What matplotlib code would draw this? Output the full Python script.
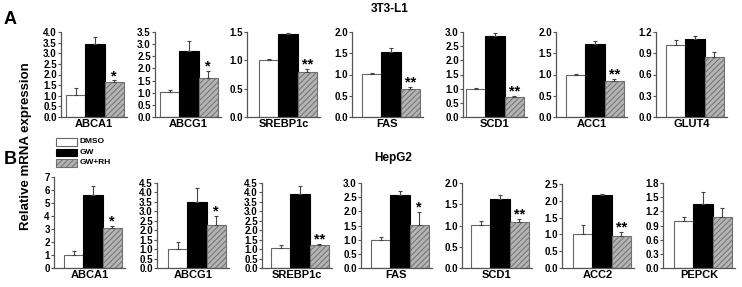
import numpy as np
import matplotlib
matplotlib.use('Agg')
import matplotlib.pyplot as plt
from matplotlib.patches import Rectangle

plt.rcParams['font.family'] = ['Liberation Sans', 'DejaVu Sans']
plt.rcParams['font.weight'] = 'bold'
plt.rcParams['hatch.linewidth'] = 0.7
plt.rcParams['hatch.color'] = '#5e5e5e'

groups = ['DMSO', 'GW', 'GW+RH']

# panel A, 3T3-L1
genes_a = ['ABCA1', 'ABCG1', 'SREBP1c', 'FAS', 'SCD1', 'ACC1', 'GLUT4']
dmso_a = [1.05, 1.02, 1.0, 1.01, 1.0, 1.0, 1.01]
dmso_a_err = [0.3, 0.08, 0.02, 0.02, 0.03, 0.02, 0.08]
gw_a = [3.45, 2.7, 1.46, 1.54, 2.86, 1.72, 1.10]
gw_a_err = [0.33, 0.45, 0.03, 0.09, 0.09, 0.08, 0.05]
rh_a = [1.67, 1.6, 0.80, 0.67, 0.72, 0.85, 0.85]
rh_a_err = [0.05, 0.3, 0.04, 0.03, 0.03, 0.05, 0.07]
sig_a = ['*', '*', '**', '**', '**', '**', '']
ymax_a = [4.0, 3.5, 1.5, 2.0, 3.0, 2.0, 1.2]
ystep_a = [0.5, 0.5, 0.5, 0.5, 0.5, 0.5, 0.3]

# panel B, HepG2
genes_b = ['ABCA1', 'ABCG1', 'SREBP1c', 'FAS', 'SCD1', 'ACC2', 'PEPCK']
dmso_b = [1.02, 1.03, 1.05, 1.0, 1.01, 1.02, 1.0]
dmso_b_err = [0.3, 0.35, 0.15, 0.08, 0.09, 0.25, 0.07]
gw_b = [5.6, 3.5, 3.9, 2.58, 1.62, 2.17, 1.35]
gw_b_err = [0.7, 0.75, 0.44, 0.15, 0.1, 0.03, 0.26]
rh_b = [3.05, 2.27, 1.2, 1.53, 1.08, 0.95, 1.09]
rh_b_err = [0.21, 0.5, 0.09, 0.46, 0.08, 0.13, 0.18]
sig_b = ['*', '*', '**', '*', '**', '**', '']
ymax_b = [7, 4.5, 4.5, 3.0, 2.0, 2.5, 1.8]
ystep_b = [1, 0.5, 0.5, 0.5, 0.5, 0.5, 0.3]

W, H = 742, 287
fig = plt.figure(figsize=(W / 100, H / 100), dpi=100)

# layout in pixels: spine x, first bar x, top y, bottom y
spine_a = [61, 155, 247, 352, 463, 556, 656]
bar0_a = [66, 160, 259, 362, 466, 566, 666]
top_a = [32] * 7
spine_b = [54, 157, 262, 361, 462, 562, 663]
bar0_b = [64, 168, 271, 371, 471, 573, 674]
top_b = [177, 183, 183, 183, 183, 184, 183]
bw = 19.3

styles = [dict(facecolor='white', edgecolor='#666666'),
          dict(facecolor='black', edgecolor='black'),
          dict(facecolor='#b4b4b4', edgecolor='#707070', hatch='//////')]


def panel(sx, b0, ty, by, gene, vals, errs, sig, ymax, ystep, intlab=False):
    end = b0 + 3 * bw + 3
    ax = fig.add_axes([sx / W, 1 - by / H, (end - sx) / W, (by - ty) / H])
    x0 = -0.5 - (b0 - sx) / bw
    ax.set_xlim(x0, x0 + (end - sx) / bw)
    ax.set_ylim(0, ymax)
    x = np.arange(3)
    for i in range(3):
        ax.bar(x[i], vals[i], width=1.0, linewidth=0.8, **styles[i])
        ax.errorbar(x[i], vals[i], yerr=[[0], [errs[i]]], fmt='none',
                    ecolor='#444444', elinewidth=0.8, capsize=1.5, capthick=0.8)
    if sig:
        ax.text(2, vals[2] + errs[2] - ymax * 0.03, sig, ha='center', va='bottom',
                fontsize=10.5, fontweight='bold')
    ticks = np.round(np.arange(0, ymax + 1e-9, ystep), 2)
    ax.set_yticks(ticks)
    if intlab:
        ax.set_yticklabels([f'{t:.0f}' for t in ticks])
    else:
        ax.set_yticklabels([f'{t:.1f}' for t in ticks])
    ax.set_xticks([])
    for s in ['top', 'right']:
        ax.spines[s].set_visible(False)
    for s in ['left', 'bottom']:
        ax.spines[s].set_color('#555555')
        ax.spines[s].set_linewidth(0.9)
    ax.tick_params(axis='y', length=2, width=0.8, pad=1, labelsize=7, colors='#555555',
                   labelcolor='black')
    for lab in ax.get_yticklabels():
        lab.set_fontweight('bold')
    ax.set_xlabel(gene, fontsize=8, fontweight='bold', labelpad=1.5)
    return ax


for i in range(7):
    panel(spine_a[i], bar0_a[i], top_a[i], 117, genes_a[i],
          [dmso_a[i], gw_a[i], rh_a[i]], [dmso_a_err[i], gw_a_err[i], rh_a_err[i]],
          sig_a[i], ymax_a[i], ystep_a[i])
    panel(spine_b[i], bar0_b[i], top_b[i], 268, genes_b[i],
          [dmso_b[i], gw_b[i], rh_b[i]], [dmso_b_err[i], gw_b_err[i], rh_b_err[i]],
          sig_b[i], ymax_b[i], ystep_b[i], intlab=(i == 0))

fig.text(390 / W, 1 - 9 / H, '3T3-L1', ha='center', va='center', fontsize=8.5, fontweight='bold')
fig.text(393 / W, 1 - 158 / H, 'HepG2', ha='center', va='center', fontsize=8.5, fontweight='bold')
fig.text(10 / W, 1 - 20 / H, 'A', ha='center', va='center', fontsize=13, fontweight='bold')
fig.text(10 / W, 1 - 160 / H, 'B', ha='center', va='center', fontsize=13, fontweight='bold')
fig.text(26 / W, 1 - 146 / H, 'Relative mRNA expression', ha='center', va='center',
         rotation=90, fontsize=9.5, fontweight='bold')

# legend
legy = [142, 152.5, 163]
for i, g in enumerate(groups):
    r = Rectangle((56 / W, 1 - (legy[i] + 3.8) / H), 21 / W, 7.6 / H, transform=fig.transFigure,
                  linewidth=0.8, **styles[i])
    fig.patches.append(r)
    fig.text(80 / W, 1 - legy[i] / H, g, ha='left', va='center', fontsize=6, fontweight='bold')

fig.savefig('out.png', dpi=100)
